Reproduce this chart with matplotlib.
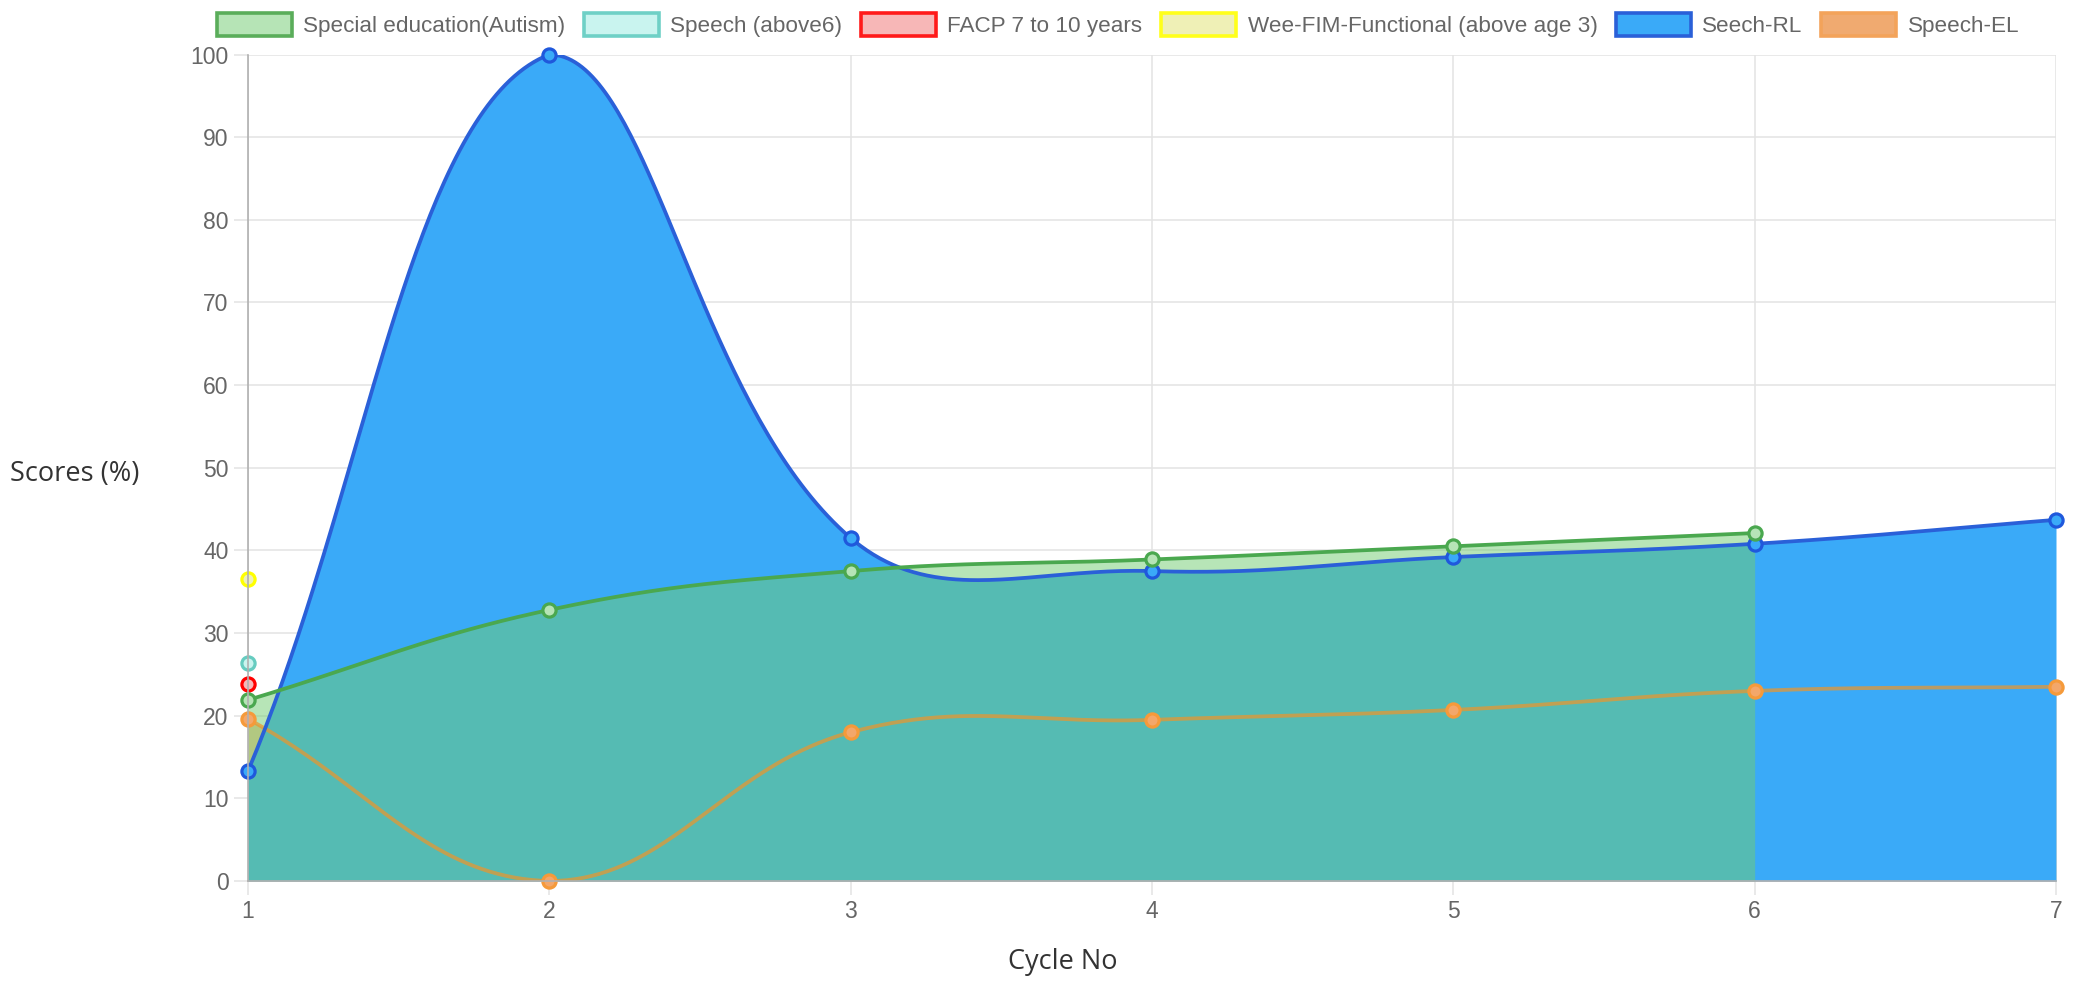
import numpy as np
import matplotlib
matplotlib.use("Agg")
import matplotlib.pyplot as plt
from matplotlib.patches import Rectangle

# ---------------- data ----------------
cycles = [1, 2, 3, 4, 5, 6, 7]
special_ed = [21.9, 32.8, 37.5, 38.9, 40.5, 42.1]
speech_above6 = [26.4]
facp = [23.8]
weefim = [36.5]
seech_rl = [13.3, 100, 41.5, 37.5, 39.2, 40.8, 43.7]
speech_el = [19.6, 0, 18.0, 19.5, 20.7, 23.0, 23.5]
legend_labels = ["Special education(Autism)", "Speech (above6)", "FACP 7 to 10 years",
                 "Wee-FIM-Functional (above age 3)", "Seech-RL", "Speech-EL"]
y_ticks = list(range(0, 101, 10))

# ---------------- figure ----------------
W, H = 2073, 984
fig = plt.figure(figsize=(W / 100, H / 100), dpi=100)
L, R, T, B = 248, 2056, 54.5, 881
ax = fig.add_axes([L / W, 1 - B / H, (R - L) / W, (B - T) / H])
ax.set_xlim(1, 7)
ax.set_ylim(0, 100)

TICKFONT = "Liberation Sans"


def chartjs_spline(xs, ys, tension=0.4, n=80):
    pts = ax.transData.transform(np.column_stack([xs, ys]).astype(float))
    m = len(pts)
    if m == 1:
        return np.array(xs, float), np.array(ys, float)
    cp_prev = np.zeros_like(pts)
    cp_next = np.zeros_like(pts)
    for i in range(m):
        prev = pts[i - 1] if i > 0 else pts[i]
        cur = pts[i]
        nxt = pts[i + 1] if i < m - 1 else pts[i]
        d01 = np.hypot(*(cur - prev))
        d12 = np.hypot(*(nxt - cur))
        tot = d01 + d12
        s01 = d01 / tot if tot else 0
        s12 = d12 / tot if tot else 0
        cp_prev[i] = cur - tension * s01 * (nxt - prev)
        cp_next[i] = cur + tension * s12 * (nxt - prev)
    bb = ax.bbox
    for arr in (cp_prev, cp_next):
        arr[:, 0] = np.clip(arr[:, 0], bb.x0, bb.x1)
        arr[:, 1] = np.clip(arr[:, 1], bb.y0, bb.y1)
    t = np.linspace(0, 1, n)[:, None]
    segs = []
    for i in range(m - 1):
        p0, p1, p2, p3 = pts[i], cp_next[i], cp_prev[i + 1], pts[i + 1]
        seg = (1 - t) ** 3 * p0 + 3 * (1 - t) ** 2 * t * p1 + 3 * (1 - t) * t ** 2 * p2 + t ** 3 * p3
        segs.append(seg if i == 0 else seg[1:])
    curve = np.vstack(segs)
    d = ax.transData.inverted().transform(curve)
    return d[:, 0], d[:, 1]


# colors
green_line = "#4aa84f"
green_fill = (112 / 255, 204 / 255, 112 / 255)
green_pt = "#b6e4b6"
blue_fill = "#3aaaf8"
blue_line = "#2a60d8"
orange_line = (235 / 255, 150 / 255, 45 / 255)
orange_fill = (240 / 255, 150 / 255, 60 / 255)
orange_pt = "#f3a76a"

x_ed = cycles[:len(special_ed)]
x_rl = cycles[:len(seech_rl)]
x_el = cycles[:len(speech_el)]

ex, ey = chartjs_spline(x_ed, special_ed)
bx, by = chartjs_spline(x_rl, seech_rl)
ox, oy = chartjs_spline(x_el, speech_el)

# fills
ax.fill_between(ox, 0, oy, color=orange_fill, alpha=0.55, lw=0, zorder=1)
ax.fill_between(bx, 0, by, color=blue_fill, alpha=1.0, lw=0, zorder=2)
ax.fill_between(ex, 0, ey, color=green_fill, alpha=0.5, lw=0, zorder=3)

# lines
LW = 2.7
ax.plot(ox, oy, color=orange_line, alpha=0.72, lw=LW, zorder=4, solid_capstyle="round")
ax.plot(bx, by, color=blue_line, lw=LW, zorder=4.1, solid_capstyle="round")
ax.plot(ex, ey, color=green_line, lw=LW, zorder=4.2, solid_capstyle="round")

# points
ms, mew = 9.5, 2.3
ax.plot(x_el, speech_el, "o", ms=ms, mew=mew, mfc=orange_pt, mec="#f59a3a", zorder=5, clip_on=False)
ax.plot(x_rl, seech_rl, "o", ms=ms, mew=mew, mfc=blue_fill, mec="#1f58dc", zorder=5, clip_on=False)
ax.plot(cycles[:1], weefim, "o", ms=ms, mew=mew, mfc="#eef0b8", mec="#ffff00", zorder=5, clip_on=False)
ax.plot(cycles[:1], facp, "o", ms=ms, mew=mew, mfc="#f6b6b6", mec="#ff0000", zorder=5, clip_on=False)
ax.plot(cycles[:1], speech_above6, "o", ms=ms, mew=mew, mfc="#c9f4ef", mec="#66ccc0", zorder=5, clip_on=False)
ax.plot(x_ed, special_ed, "o", ms=ms, mew=mew, mfc=green_pt, mec=green_line, zorder=5.1, clip_on=False)

# axes styling
ax.set_xticks(cycles)
ax.set_xticklabels([str(c) for c in cycles])
ax.set_yticks(y_ticks)
ax.set_yticklabels([str(v) for v in y_ticks])
ax.grid(True, color="#e3e3e3", lw=1.1, zorder=0)
ax.set_axisbelow(True)
for s in ("top", "right"):
    ax.spines[s].set_visible(False)
for s in ("left", "bottom"):
    ax.spines[s].set_color("#b0b0b0")
    ax.spines[s].set_linewidth(1.2)
    ax.spines[s].set_zorder(6)
ax.tick_params(axis="both", length=10, width=1.1, color="#e3e3e3", labelsize=16.5,
               labelcolor="#666666", pad=4)
for lab in ax.get_xticklabels() + ax.get_yticklabels():
    lab.set_fontfamily(TICKFONT)

# axis titles
fig.text(75 / W, 1 - 474 / H, "Scores (%)", ha="center", va="center", fontsize=19.5,
         family="Open Sans", color="#333333")
fig.text(1063 / W, 1 - 962 / H, "Cycle No", ha="center", va="center", fontsize=19.5,
         family="Open Sans", color="#333333")

# legend (chart.js style)
renderer = fig.canvas.get_renderer()
fs_pt = 16.2
box_w, box_h, gap, pad = 75, 23, 11.25, 18.75
yc = 24
faces = ["#b6e4b6", "#c9f4ef", "#f7b7b7", "#eff0b6", blue_fill, "#f0aa70"]
edges = ["#5aad5a", "#6fd0c6", "#ff1a1a", "#ffff1a", blue_line, "#f3a35a"]
x = 217
for lab, fc, ec in zip(legend_labels, faces, edges):
    rect = Rectangle((x / W, 1 - (yc + box_h / 2) / H), box_w / W, box_h / H,
                     transform=fig.transFigure, facecolor=fc, edgecolor=ec, lw=2.6)
    fig.add_artist(rect)
    t = fig.text((x + box_w + gap) / W, 1 - yc / H, lab, ha="left", va="center_baseline",
                 fontsize=fs_pt, family=TICKFONT, color="#666666")
    tw = t.get_window_extent(renderer).width
    x = x + box_w + gap + tw + pad

fig.savefig("out.png", dpi=100, facecolor="white")
